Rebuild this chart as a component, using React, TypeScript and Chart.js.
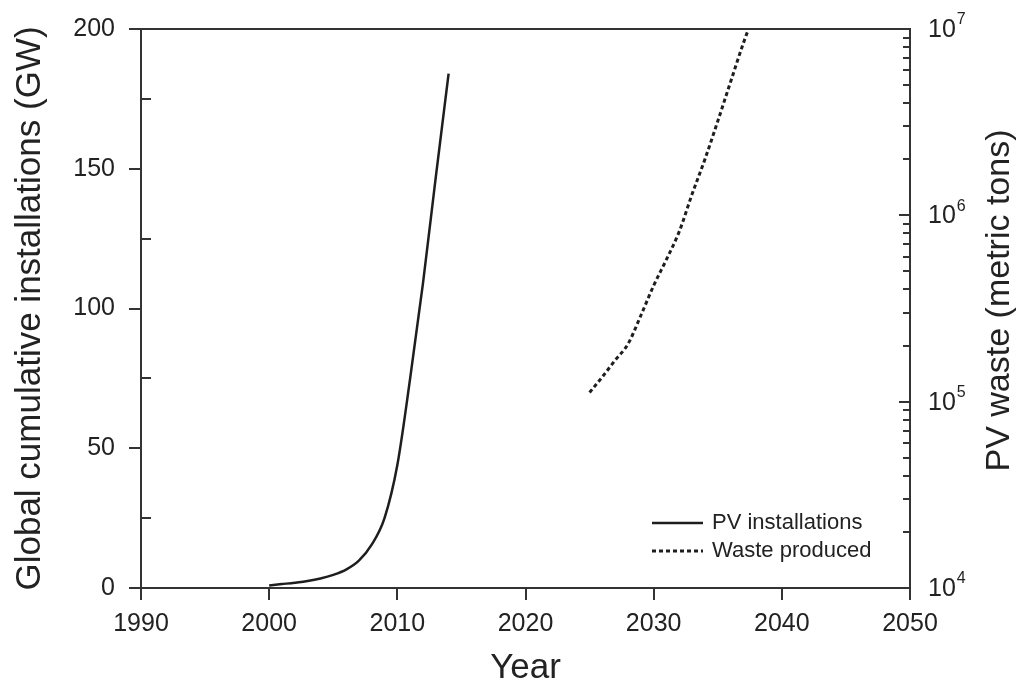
import React, { useEffect, useRef } from "react";
import { Chart, registerables } from "chart.js";

Chart.register(...registerables);

// ---- data ----
const pvYears = [2000, 2001, 2002, 2003, 2004, 2005, 2006, 2007, 2008, 2009, 2010, 2011, 2012, 2013, 2014];
const pvInstalledGW = [0.9, 1.4, 1.9, 2.5, 3.4, 4.7, 6.6, 9.8, 15.5, 25, 44, 75, 109, 147, 184];

const wasteYears = [2025, 2026, 2027, 2028, 2029, 2030, 2031, 2032, 2033, 2034, 2035, 2036, 2037, 2037.4];
const wasteTons = [1.12e5, 1.36e5, 1.67e5, 2.04e5, 2.9e5, 4.2e5, 5.8e5, 8.2e5, 1.3e6, 2.0e6, 3.2e6, 5.2e6, 8.4e6, 1.0e7];

const yearTicks = [1990, 2000, 2010, 2020, 2030, 2040, 2050];
const gwTicks = [0, 50, 100, 150, 200];
const gwMinorTicks = [25, 75, 125, 175];
const wasteDecades = [1e4, 1e5, 1e6, 1e7];
const wasteExponents = ["4", "5", "6", "7"];
const minorMultipliers = [2, 3, 4, 5, 6, 7, 8, 9];

const seriesLabels = ["PV installations", "Waste produced"];
const xTitle = "Year";
const yTitle = "Global cumulative installations (GW)";
const y2Title = "PV waste (metric tons)";

const FONT = "'Liberation Sans', Arial, Helvetica, sans-serif";
const TEXT = "#222";
const AXIS = "#333";
const LINE = "#1e1e1e";
const TICK_SIZE = 25;
const TITLE_SIZE = 35;

const decor = {
  id: "decor",
  afterDraw(chart: any) {
    const { ctx, chartArea: ca, scales } = chart;
    const y = scales.y;
    const y2 = scales.y2;
    ctx.save();
    ctx.strokeStyle = AXIS;
    ctx.lineWidth = 2;
    ctx.lineCap = "butt";
    // top frame line
    ctx.beginPath();
    ctx.moveTo(ca.left, ca.top);
    ctx.lineTo(ca.right + 1, ca.top);
    ctx.stroke();
    // left minor ticks (inward)
    for (const v of gwMinorTicks) {
      const py = Math.round(y.getPixelForValue(v));
      ctx.beginPath();
      ctx.moveTo(ca.left, py);
      ctx.lineTo(ca.left + 10, py);
      ctx.stroke();
    }
    // right log ticks (inward)
    wasteDecades.forEach((d, i) => {
      const py = Math.round(y2.getPixelForValue(d));
      ctx.beginPath();
      ctx.moveTo(ca.right, py);
      ctx.lineTo(ca.right - 11, py);
      ctx.stroke();
      if (i < wasteDecades.length - 1) {
        for (const m of minorMultipliers) {
          const pm = Math.round(y2.getPixelForValue(m * d));
          ctx.beginPath();
          ctx.moveTo(ca.right, pm);
          ctx.lineTo(ca.right - 7, pm);
          ctx.stroke();
        }
      }
    });
    // right tick labels 10^n
    ctx.fillStyle = TEXT;
    ctx.textBaseline = "middle";
    ctx.textAlign = "left";
    wasteDecades.forEach((d, i) => {
      const py = y2.getPixelForValue(d);
      ctx.font = `${TICK_SIZE}px ${FONT}`;
      const x0 = ca.right + 18;
      ctx.fillText("10", x0, py + 1);
      const w = ctx.measureText("10").width;
      ctx.font = `16px ${FONT}`;
      ctx.fillText(wasteExponents[i], x0 + w + 1, py - 9);
    });
    // right axis title (reads bottom to top)
    ctx.save();
    ctx.font = `${TITLE_SIZE - 1}px ${FONT}`;
    ctx.textAlign = "center";
    ctx.translate(1000, (ca.top + ca.bottom) / 2 - 8);
    ctx.rotate(-Math.PI / 2);
    ctx.fillText(y2Title, 0, 0);
    ctx.restore();
    // legend
    const lx0 = 652, lx1 = 703, tx = 712;
    const rows = [523, 551];
    ctx.font = `22px ${FONT}`;
    rows.forEach((ry, i) => {
      ctx.strokeStyle = LINE;
      ctx.lineWidth = i === 0 ? 2.5 : 3;
      ctx.setLineDash(i === 0 ? [] : [4, 3]);
      ctx.beginPath();
      ctx.moveTo(lx0, ry);
      ctx.lineTo(lx1, ry);
      ctx.stroke();
      ctx.setLineDash([]);
      ctx.fillStyle = TEXT;
      ctx.fillText(seriesLabels[i], tx, ry);
    });
    ctx.restore();
  },
};

export default function App() {
  const ref = useRef<HTMLCanvasElement>(null);
  useEffect(() => {
    Chart.defaults.font.family = FONT;
    Chart.defaults.color = TEXT;
    const chart = new Chart(ref.current as HTMLCanvasElement, {
      type: "line",
      data: {
        datasets: [
          {
            label: seriesLabels[0],
            data: pvYears.map((x, i) => ({ x, y: pvInstalledGW[i] })),
            yAxisID: "y",
            borderColor: LINE,
            borderWidth: 2.5,
            pointRadius: 0,
            cubicInterpolationMode: "monotone",
            fill: false,
          },
          {
            label: seriesLabels[1],
            data: wasteYears.map((x, i) => ({ x, y: wasteTons[i] })),
            yAxisID: "y2",
            borderColor: LINE,
            borderWidth: 3,
            borderDash: [4, 3],
            pointRadius: 0,
            cubicInterpolationMode: "monotone",
            fill: false,
          },
        ],
      },
      options: {
        responsive: false,
        animation: false,
        devicePixelRatio: 1,
        layout: { padding: { top: 9, left: 0, right: 0, bottom: 0 } },
        plugins: { legend: { display: false }, tooltip: { enabled: false } },
        scales: {
          x: {
            type: "linear",
            min: 1990,
            max: 2050,
            afterBuildTicks: (s: any) => {
              s.ticks = yearTicks.map((v) => ({ value: v }));
            },
            afterFit: (s: any) => {
              s.height = 102;
            },
            ticks: {
              font: { size: TICK_SIZE },
              color: TEXT,
              padding: 9,
              maxRotation: 0,
              autoSkip: false,
              callback: (v: any) => String(v),
            },
            grid: { drawOnChartArea: false, drawTicks: true, tickLength: 12, color: AXIS, lineWidth: 2 },
            border: { color: AXIS, width: 2 },
            title: { display: true, text: xTitle, font: { size: TITLE_SIZE }, color: TEXT, padding: { top: 0, bottom: 1 } },
          },
          y: {
            type: "linear",
            position: "left",
            min: 0,
            max: 200,
            afterBuildTicks: (s: any) => {
              s.ticks = gwTicks.map((v) => ({ value: v }));
            },
            afterFit: (s: any) => {
              s.width = 141;
            },
            ticks: { font: { size: TICK_SIZE }, color: TEXT, padding: 14 },
            grid: { drawOnChartArea: false, drawTicks: true, tickLength: 12, color: AXIS, lineWidth: 2 },
            border: { color: AXIS, width: 2 },
            title: { display: true, text: yTitle, font: { size: TITLE_SIZE }, color: TEXT, padding: { top: 9, bottom: 0 } },
          },
          y2: {
            type: "logarithmic",
            position: "right",
            min: 1e4,
            max: 1e7,
            afterFit: (s: any) => {
              s.width = 112;
            },
            ticks: { display: false },
            grid: { display: false },
            border: { color: AXIS, width: 2 },
          },
        },
      } as any,
      plugins: [decor],
    });
    return () => chart.destroy();
  }, []);
  return (
    <div style={{ position: "absolute", left: 0, top: 0, width: 1022, height: 690, background: "#fff" }}>
      <canvas ref={ref} width={1022} height={690} />
    </div>
  );
}
